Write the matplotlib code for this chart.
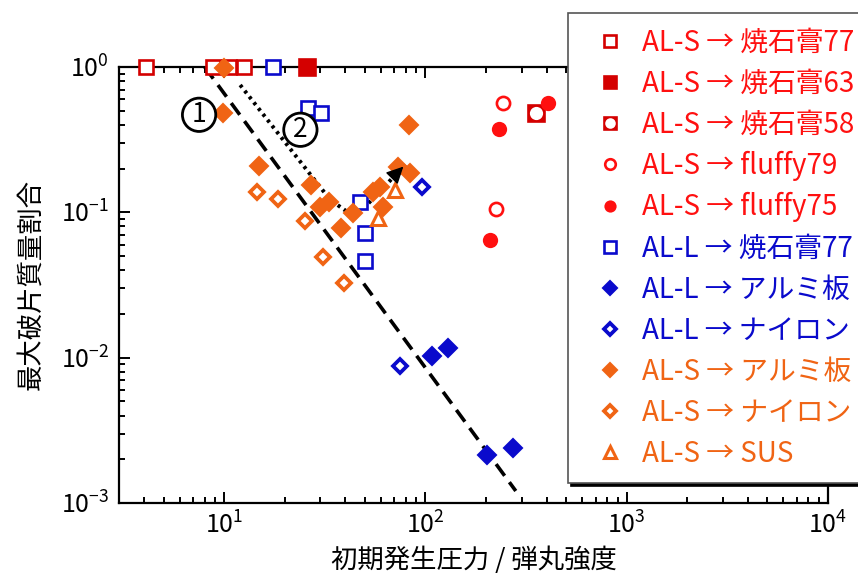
import matplotlib
matplotlib.use("Agg")
import matplotlib.pyplot as plt
from matplotlib.legend_handler import HandlerTuple

plt.rcParams['font.family'] = ['Noto Sans CJK JP', 'DejaVu Sans']
plt.rcParams['axes.unicode_minus'] = False

# data (x: 初期発生圧力/弾丸強度, y: 最大破片質量割合)
s_gyp77_x = [4.1, 8.8, 10.6, 12.6]
s_gyp77_y = [1.0, 1.0, 1.0, 1.0]
s_gyp63_x = [25.9]
s_gyp63_y = [1.0]
s_gyp58_x = [356]
s_gyp58_y = [0.483]
s_fl79_x = [244, 223]
s_fl79_y = [0.566, 0.106]
s_fl75_x = [405, 231, 208]
s_fl75_y = [0.566, 0.375, 0.065]
l_gyp77_x = [17.5, 26.2, 30.4, 47.5, 49.8, 49.8]
l_gyp77_y = [1.0, 0.523, 0.483, 0.118, 0.0726, 0.0459]
l_al_x = [108, 129, 201, 271]
l_al_y = [0.0102, 0.0116, 0.00214, 0.00239]
l_ny_x = [74.3, 96.6]
l_ny_y = [0.00873, 0.150]
s_al_x = [10.0, 9.9, 14.9, 27.1, 30.0, 33.3, 38.2, 43.8, 55.1, 59.7, 61.8, 72.6, 84.2, 83.2]
s_al_y = [0.98, 0.483, 0.209, 0.155, 0.108, 0.118, 0.0785, 0.0995, 0.139, 0.150, 0.109, 0.206, 0.187, 0.400]
s_ny_x = [14.6, 18.6, 25.3, 31.1, 39.5]
s_ny_y = [0.137, 0.124, 0.0877, 0.0489, 0.0324]
s_sus_x = [58.3, 70.2]
s_sus_y = [0.092, 0.143]

dash_x = [8.0, 281]
dash_y = [1.0, 0.00121]
dot_x = [12.0, 33.6, 41.4, 47.5, 79.4]
dot_y = [0.752, 0.122, 0.0995, 0.101, 0.213]

# circled labels ① ②
tag_x = [7.5, 23.9]
tag_y = [0.469, 0.37]
tag_text = ['1', '2']

DRED = '#D40000'
RED = '#FF1010'
BLUE = '#0A0ACC'
ORANGE = '#F06414'

fig = plt.figure(figsize=(8.58, 5.77), dpi=100)
ax = fig.add_axes([119 / 858, 74 / 577, 709 / 858, 436 / 577])
ax.set_xscale('log')
ax.set_yscale('log')

ms = 10
ew = 1.9
ax.plot(dash_x, dash_y, color='black', lw=2.6, ls=(0, (4, 2.2)), zorder=2)
ax.plot(dot_x, dot_y, color='black', lw=2.8, ls=(0, (0.8, 1.1)), zorder=2)
ax.annotate('', xy=(dot_x[-1], dot_y[-1]), xytext=(74.0, 0.193),
            arrowprops=dict(arrowstyle='-|>', color='black', lw=1, mutation_scale=26),
            zorder=6)

st = dict(ls='none', clip_on=False, zorder=4)
h1, = ax.plot(s_gyp77_x, s_gyp77_y, marker='s', ms=ms, mfc='white', mec=DRED, mew=ew, **st)
h2, = ax.plot(s_gyp63_x, s_gyp63_y, marker='s', ms=ms + 1, mfc=DRED, mec=DRED, mew=ew, **st)
h3a, = ax.plot(s_gyp58_x, s_gyp58_y, marker='s', ms=ms + 1, mfc=DRED, mec=DRED, mew=ew, **st)
h3b, = ax.plot(s_gyp58_x, s_gyp58_y, marker='o', ms=ms - 0.5, mfc='white', mec='white', mew=0, **st)
h4, = ax.plot(s_fl79_x, s_fl79_y, marker='o', ms=ms - 0.5, mfc='white', mec=RED, mew=ew, **st)
h5, = ax.plot(s_fl75_x, s_fl75_y, marker='o', ms=ms + 1, mfc=RED, mec=RED, mew=0, **st)
h6, = ax.plot(l_gyp77_x, l_gyp77_y, marker='s', ms=ms, mfc='white', mec=BLUE, mew=ew, **st)
h7, = ax.plot(l_al_x, l_al_y, marker='D', ms=ms - 1, mfc=BLUE, mec=BLUE, mew=1.5, **st)
h8, = ax.plot(l_ny_x, l_ny_y, marker='D', ms=ms - 2.5, mfc='white', mec=BLUE, mew=2.7, **st)
h9, = ax.plot(s_al_x, s_al_y, marker='D', ms=ms - 1, mfc=ORANGE, mec=ORANGE, mew=1.5, **st)
h10, = ax.plot(s_ny_x, s_ny_y, marker='D', ms=ms - 2.5, mfc='white', mec=ORANGE, mew=2.7, **st)
h11, = ax.plot(s_sus_x, s_sus_y, marker='^', ms=ms, mfc='white', mec=ORANGE, mew=2.2, **st)

for x, y, t in zip(tag_x, tag_y, tag_text):
    ax.text(x, y, t, fontsize=19, ha='center', va='center', zorder=5,
            bbox=dict(boxstyle='circle,pad=0.12', fc='white', ec='black', lw=2.0))

ax.set_xlim(3.0, 1e4)
ax.set_ylim(1e-3, 1)
for s in ax.spines.values():
    s.set_linewidth(1.6)
ax.tick_params(which='both', direction='in', top=True, right=True, width=1.4, labelsize=18)
ax.tick_params(which='major', length=8, pad=7)
ax.tick_params(which='minor', length=4.5)
ax.set_xlabel('初期発生圧力 / 弾丸強度', fontsize=19, labelpad=5)
ax.set_ylabel('最大破片質量割合', fontsize=19, labelpad=12)

handles = [h1, h2, (h3a, h3b), h4, h5, h6, h7, h8, h9, h10, h11]
labels = ['AL-S → 焼石膏77', 'AL-S → 焼石膏63', 'AL-S → 焼石膏58', 'AL-S → fluffy79',
          'AL-S → fluffy75', 'AL-L → 焼石膏77', 'AL-L → アルミ板', 'AL-L → ナイロン',
          'AL-S → アルミ板', 'AL-S → ナイロン', 'AL-S → SUS']
text_colors = [RED, RED, RED, RED, RED, BLUE, BLUE, BLUE, ORANGE, ORANGE, ORANGE]
leg = ax.legend(handles, labels, loc='upper left',
                bbox_to_anchor=(568 / 858, 1 - 13 / 577), bbox_transform=fig.transFigure,
                borderaxespad=0, fontsize=20, frameon=True, fancybox=False,
                edgecolor='#555555', framealpha=1, numpoints=1, markerscale=0.8,
                handlelength=2.0, handletextpad=0.16, borderpad=0.52, labelspacing=0.40,
                shadow={'color': 'black', 'alpha': 1.0},
                handler_map={tuple: HandlerTuple(ndivide=1, pad=0)})
leg.get_frame().set_linewidth(1.2)
leg.set_zorder(10)
for t, c in zip(leg.get_texts(), text_colors):
    t.set_color(c)

fig.savefig('out.png', dpi=100)
